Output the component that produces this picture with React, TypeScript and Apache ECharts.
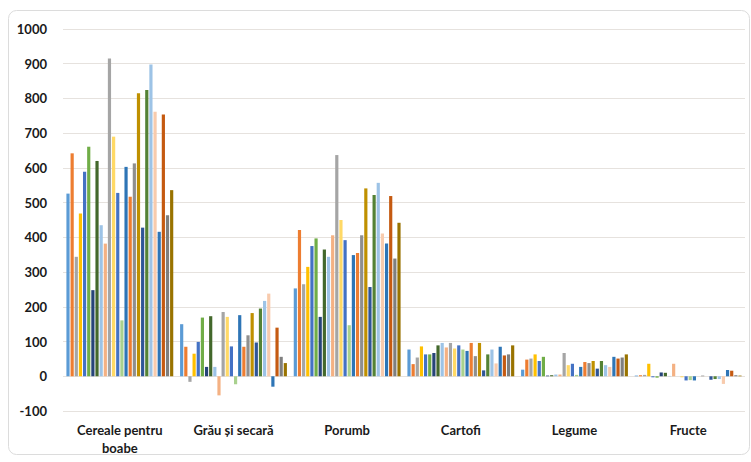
import React, { useEffect, useRef } from "react";
import * as echarts from "echarts";

const categories = ["Cereale pentru\nboabe", "Grău și secară", "Porumb", "Cartofi", "Legume", "Fructe"];

// one value per series (26 series) for each category
const cereale = [526, 642, 344, 469, 589, 661, 248, 620, 435, 382, 915, 690, 528, 161, 603, 517, 613, 815, 428, 824, 898, 762, 416, 754, 464, 536];
const grau = [150, 85, -16, 65, 99, 169, 27, 173, 27, -55, 185, 171, 86, -23, 176, 85, 118, 182, 97, 195, 217, 238, -30, 140, 56, 38];
const porumb = [253, 421, 265, 315, 375, 397, 171, 365, 344, 406, 637, 450, 392, 147, 349, 355, 406, 541, 257, 522, 557, 411, 382, 519, 339, 442];
const cartofi = [77, 35, 54, 86, 63, 63, 67, 89, 96, 83, 96, 80, 89, 77, 73, 96, 58, 96, 17, 63, 77, 37, 85, 60, 63, 89];
const legume = [19, 48, 51, 63, 44, 56, 2, 3, 5, 5, 67, 32, 36, 4, 27, 41, 38, 44, 22, 44, 32, 27, 56, 51, 54, 63];
const fructe = [2, 3, 4, 36, -3, -4, 11, 10, 1, 36, 0, -3, -12, -11, -12, 0, 2, 0, -10, -8, -8, -22, 18, 16, 3, 2];

const seriesColors = [
  "#5B9BD5", "#ED7D31", "#A5A5A5", "#FFC000", "#4472C4", "#70AD47", "#264478", "#43682B",
  "#9DC3E6", "#F4B183", "#A5A5A5", "#FFD966", "#4472C4", "#A9D18E", "#2E75B6", "#ED7D31",
  "#8F8F8F", "#BF9000", "#2F5597", "#548235", "#9DC3E6", "#F8CBAD", "#2E75B6", "#C55A11",
  "#7F7F7F", "#997300",
];

const yMin = -100;
const yMax = 1000;
const yInterval = 100;

export default function App() {
  const ref = useRef<HTMLDivElement>(null);

  useEffect(() => {
    if (!ref.current) return;
    const chart = echarts.init(ref.current, null, { renderer: "svg" });
    const groups = [cereale, grau, porumb, cartofi, legume, fructe];
    const series = seriesColors.map((color, i) => ({
      name: "Seria " + (i + 1),
      type: "bar",
      data: groups.map((g) => g[i]),
      itemStyle: { color },
      barGap: "30%",
      barCategoryGap: "6%",
    }));
    chart.setOption({
      animation: false,
      backgroundColor: "#ffffff",
      graphic: [
        {
          type: "rect",
          shape: { x: 8.5, y: 10.5, width: 741, height: 444, r: 8 },
          style: { fill: "none", stroke: "#dcdcdc", lineWidth: 1 },
          silent: true,
          z: -10,
        },
      ],
      grid: { left: 63, right: 6, top: 29, bottom: 51 },
      xAxis: {
        type: "category",
        data: categories,
        axisLine: { show: false, onZero: false },
        axisTick: { show: false },
        axisLabel: {
          color: "#1a1a1a",
          fontFamily: "Lato",
          fontWeight: "bold",
          fontSize: 13,
          lineHeight: 18,
          margin: 10,
          interval: 0,
        },
      },
      yAxis: {
        type: "value",
        min: yMin,
        max: yMax,
        interval: yInterval,
        axisLine: { show: false },
        axisTick: { show: false },
        splitLine: { show: true, lineStyle: { color: "#e6e2de", width: 1 } },
        axisLabel: {
          color: "#1a1a1a",
          fontFamily: "Lato",
          fontWeight: "bold",
          fontSize: 13,
          margin: 16,
          formatter: (v: number) => String(v),
        },
      },
      series,
    });
    return () => chart.dispose();
  }, []);

  return (
    <div
      ref={ref}
      style={{ position: "absolute", left: 0, top: 0, width: 751, height: 462 }}
    />
  );
}
